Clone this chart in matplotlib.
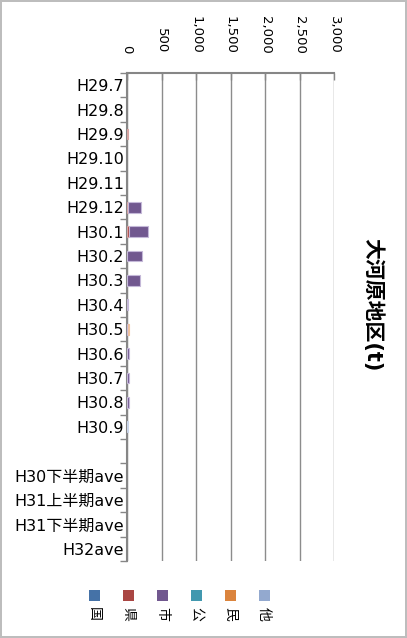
import matplotlib
matplotlib.use("Agg")
import matplotlib.pyplot as plt
from matplotlib.patches import Rectangle
import numpy as np

plt.rcParams['font.family'] = ['DejaVu Sans', 'Noto Sans CJK JP']

categories = ['H29.7', 'H29.8', 'H29.9', 'H29.10', 'H29.11', 'H29.12',
              'H30.1', 'H30.2', 'H30.3', 'H30.4', 'H30.5', 'H30.6',
              'H30.7', 'H30.8', 'H30.9', '',
              'H30下半期ave', 'H31上半期ave', 'H31下半期ave', 'H32ave']
kuni  = [0, 0, 0, 0, 0, 0, 0, 0, 0, 0, 0, 0, 0, 0, 0, 0, 0, 0, 0, 0]
ken   = [0, 0, 20, 0, 0, 10, 25, 0, 0, 0, 0, 0, 0, 0, 0, 0, 0, 0, 0, 0]
shi   = [0, 0, 0, 0, 0, 190, 280, 215, 185, 8, 20, 35, 25, 25, 0, 0, 0, 0, 0, 0]
ko    = [0, 0, 0, 0, 0, 0, 0, 0, 0, 0, 0, 0, 0, 0, 0, 0, 0, 0, 0, 0]
min_  = [0, 0, 0, 0, 0, 0, 0, 0, 0, 0, 15, 0, 0, 0, 0, 0, 0, 0, 0, 0]
hoka  = [0, 0, 0, 0, 0, 0, 0, 0, 0, 0, 0, 0, 0, 0, 8, 0, 0, 0, 0, 0]
series_names = ['国', '県', '市', '公', '民', '他']
series = [kuni, ken, shi, ko, min_, hoka]
colors = ['#4572A7', '#AA4643', '#71588F', '#4198AF', '#DB843D', '#93A9CF']
edges = ['#a9bcd6', '#d6a3a1', '#c4b8d8', '#a5d0dc', '#efc19e', '#c9d4e8']
xticks = [0, 500, 1000, 1500, 2000, 2500, 3000]
title = '大河原地区(t)'

fig = plt.figure(figsize=(4.07, 6.38), dpi=100)
fig.patch.set_facecolor('white')
fig.patch.set_edgecolor('#bdbdbd')
fig.patch.set_linewidth(1.5)

ax = fig.add_axes([127/407, 1 - 561/638, (334 - 127)/407, (561 - 73)/638])
y = np.arange(len(categories))
left = np.zeros(len(categories))
for vals, c, ec, name in zip(series, colors, edges, series_names):
    v = np.array(vals, dtype=float)
    lw = [0.8 if val > 0 else 0 for val in v]
    ax.barh(y, v, left=left, height=0.45, color=c, edgecolor=ec, linewidth=lw,
            label=name, zorder=3)
    left += v

ax.set_xlim(0, 3000)
ax.set_ylim(len(categories) - 0.5, -0.5)
ax.xaxis.tick_top()
ax.set_xticks(xticks)
ax.set_xticklabels([f'{t:,}' for t in xticks], rotation=270, fontsize=9.5)
ax.tick_params(axis='x', direction='in', length=5, width=1, color='#868686',
               pad=14, top=True, bottom=False)
ax.set_yticks(y)
ax.set_yticklabels(categories, fontsize=11.5)
ax.set_yticks(np.arange(len(categories) + 1) - 0.5, minor=True)
ax.tick_params(axis='y', which='major', length=0, pad=2)
ax.tick_params(axis='y', which='minor', length=5, width=1, color='#868686')
ax.grid(axis='x', color='#8c8c8c', linewidth=1, zorder=0)
for s in ['right', 'bottom']:
    ax.spines[s].set_visible(False)
for s in ['left', 'top']:
    ax.spines[s].set_color('#868686')
    ax.spines[s].set_linewidth(1.5)

fig.text(373/407, 1 - 305/638, title, rotation=270, fontsize=15,
         fontweight='bold', ha='center', va='center')

# legend
for i, (name, c) in enumerate(zip(series_names, colors)):
    cx = 94 + i * 34
    fig.patches.append(Rectangle(((cx - 5.5)/407, 1 - 601/638), 11/407, 11/638,
                                 transform=fig.transFigure, facecolor=c,
                                 edgecolor='none'))
    fig.text(cx/407, 1 - 614/638, name, rotation=270, fontsize=10,
             ha='center', va='center')

fig.savefig('out.png', dpi=100)
